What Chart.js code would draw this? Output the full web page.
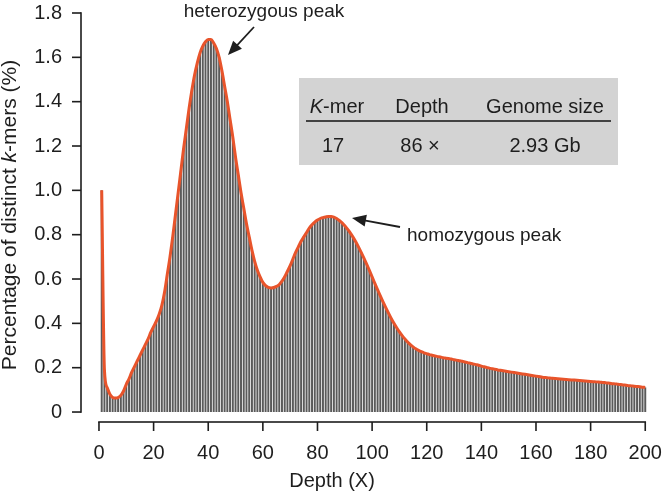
<!DOCTYPE html>
<html>
<head>
<meta charset="utf-8">
<script src="https://cdn.jsdelivr.net/npm/chart.js@4.4.0/dist/chart.umd.min.js"></script>
<style>
html, body { margin: 0; padding: 0; background: #fff; }
</style>
</head>
<body>
<canvas id="myChart" width="663" height="491"></canvas>
<script>
var depth = [
  1, 2, 3, 4, 5, 6, 7, 8, 9, 10, 11, 12, 13, 14, 15, 16, 17, 18, 19, 20,
  21, 22, 23, 24, 25, 26, 27, 28, 29, 30, 31, 32, 33, 34, 35, 36, 37, 38, 39, 40,
  41, 42, 43, 44, 45, 46, 47, 48, 49, 50, 51, 52, 53, 54, 55, 56, 57, 58, 59, 60,
  61, 62, 63, 64, 65, 66, 67, 68, 69, 70, 71, 72, 73, 74, 75, 76, 77, 78, 79, 80,
  81, 82, 83, 84, 85, 86, 87, 88, 89, 90, 91, 92, 93, 94, 95, 96, 97, 98, 99, 100,
  101, 102, 103, 104, 105, 106, 107, 108, 109, 110, 111, 112, 113, 114, 115, 116, 117, 118, 119, 120,
  121, 122, 123, 124, 125, 126, 127, 128, 129, 130, 131, 132, 133, 134, 135, 136, 137, 138, 139, 140,
  141, 142, 143, 144, 145, 146, 147, 148, 149, 150, 151, 152, 153, 154, 155, 156, 157, 158, 159, 160,
  161, 162, 163, 164, 165, 166, 167, 168, 169, 170, 171, 172, 173, 174, 175, 176, 177, 178, 179, 180,
  181, 182, 183, 184, 185, 186, 187, 188, 189, 190, 191, 192, 193, 194, 195, 196, 197, 198, 199, 200
];

// percentage of distinct k-mers at each depth
var share = [
  1.0, 0.19, 0.11, 0.08, 0.066, 0.063, 0.065, 0.075, 0.095, 0.125,
  0.15, 0.18, 0.205, 0.23, 0.255, 0.28, 0.305, 0.33, 0.36, 0.385,
  0.41, 0.44, 0.48, 0.54, 0.62, 0.70, 0.79, 0.89, 0.99, 1.09,
  1.19, 1.28, 1.37, 1.45, 1.52, 1.575, 1.62, 1.65, 1.67, 1.68,
  1.68, 1.665, 1.64, 1.60, 1.54, 1.47, 1.40, 1.32, 1.24, 1.15,
  1.07, 0.99, 0.92, 0.85, 0.79, 0.73, 0.68, 0.64, 0.61, 0.585,
  0.57, 0.562, 0.56, 0.562, 0.567, 0.575, 0.59, 0.61, 0.635, 0.66,
  0.69, 0.72, 0.745, 0.77, 0.79, 0.81, 0.83, 0.845, 0.857, 0.866,
  0.873, 0.877, 0.880, 0.882, 0.882, 0.879, 0.873, 0.864, 0.853, 0.840,
  0.825, 0.808, 0.789, 0.768, 0.745, 0.720, 0.694, 0.667, 0.639, 0.610,
  0.58, 0.552, 0.524, 0.497, 0.471, 0.446, 0.422, 0.40, 0.38, 0.362,
  0.345, 0.33, 0.316, 0.304, 0.294, 0.285, 0.278, 0.272, 0.267, 0.263,
  0.259, 0.256, 0.253, 0.25, 0.248, 0.245, 0.243, 0.241, 0.239, 0.236,
  0.234, 0.231, 0.229, 0.226, 0.223, 0.22, 0.217, 0.214, 0.211, 0.207,
  0.204, 0.201, 0.198, 0.195, 0.193, 0.19, 0.188, 0.186, 0.184, 0.182,
  0.18, 0.178, 0.176, 0.174, 0.172, 0.17, 0.168, 0.166, 0.164, 0.162,
  0.16, 0.158, 0.156, 0.155, 0.153, 0.152, 0.151, 0.15, 0.149, 0.148,
  0.147, 0.146, 0.145, 0.144, 0.143, 0.142, 0.141, 0.14, 0.139, 0.138,
  0.137, 0.136, 0.135, 0.134, 0.133, 0.131, 0.13, 0.128, 0.127, 0.125,
  0.124, 0.122, 0.121, 0.119, 0.118, 0.116, 0.115, 0.114, 0.112, 0.111
];

var xTicks = [0, 20, 40, 60, 80, 100, 120, 140, 160, 180, 200];
var yTicks = [0, 0.2, 0.4, 0.6, 0.8, 1.0, 1.2, 1.4, 1.6, 1.8];

var FONT = "'Liberation Sans', Arial, Helvetica, sans-serif";
var INK = '#1e1e1e';
var F20 = '20px ' + FONT, I20 = 'italic 20px ' + FONT;
var F21 = '21px ' + FONT, I21 = 'italic 21px ' + FONT;
Chart.defaults.font.family = FONT;

// draw a run of text pieces with different fonts, centred on x
function drawParts(ctx, parts, x, y) {
  var total = 0;
  parts.forEach(function (p) { ctx.font = p[1]; total += ctx.measureText(p[0]).width; });
  var cx = x - total / 2;
  ctx.textAlign = 'left';
  parts.forEach(function (p) {
    ctx.font = p[1];
    ctx.fillText(p[0], cx, y);
    cx += ctx.measureText(p[0]).width;
  });
}

function arrow(ctx, x1, y1, x2, y2) {
  var a = Math.atan2(y2 - y1, x2 - x1), L = 14, W = 6;
  ctx.beginPath();
  ctx.moveTo(x1, y1);
  ctx.lineTo(x2 - Math.cos(a) * L * 0.8, y2 - Math.sin(a) * L * 0.8);
  ctx.stroke();
  ctx.beginPath();
  ctx.moveTo(x2, y2);
  ctx.lineTo(x2 - L * Math.cos(a) + W * Math.sin(a), y2 - L * Math.sin(a) - W * Math.cos(a));
  ctx.lineTo(x2 - L * Math.cos(a) - W * Math.sin(a), y2 - L * Math.sin(a) + W * Math.cos(a));
  ctx.closePath();
  ctx.fill();
}

var extras = {
  id: 'extras',
  afterDraw: function (chart) {
    var ctx = chart.ctx, xs = chart.scales.x, ys = chart.scales.y, area = chart.chartArea;
    var lw = 1.6, tl = 9;
    ctx.save();
    ctx.fillStyle = INK;

    // R style detached axes: lines and tick marks
    var xl = area.left, yb = area.bottom;
    var yTop = ys.getPixelForValue(yTicks[yTicks.length - 1]), yBot = ys.getPixelForValue(yTicks[0]);
    ctx.fillRect(xl - lw / 2, yTop - lw / 2, lw, yBot - yTop + lw);
    yTicks.forEach(function (v) {
      ctx.fillRect(xl - tl, ys.getPixelForValue(v) - lw / 2, tl, lw);
    });
    var xa = xs.getPixelForValue(xTicks[0]), xb = xs.getPixelForValue(xTicks[xTicks.length - 1]);
    ctx.fillRect(xa - lw / 2, yb - lw / 2, xb - xa + lw, lw);
    xTicks.forEach(function (v) {
      ctx.fillRect(xs.getPixelForValue(v) - lw / 2, yb, lw, tl);
    });

    ctx.textBaseline = 'middle';

    // axis titles
    drawParts(ctx, [['Depth (X)', F20]], 332, 481);
    ctx.save();
    ctx.translate(10, 215);
    ctx.rotate(-Math.PI / 2);
    drawParts(ctx, [
      ['Percentage of distinct ', F21],
      ['k', I21],
      ['-mers (%)', F21]
    ], 0, 0);
    ctx.restore();

    // info table
    ctx.fillStyle = '#d3d3d3';
    ctx.fillRect(299, 78, 319, 87);
    ctx.fillStyle = INK;
    drawParts(ctx, [['K', I20], ['-mer', F20]], 337, 107);
    drawParts(ctx, [['Depth', F20]], 422, 107);
    drawParts(ctx, [['Genome size', F20]], 545, 107);
    ctx.fillRect(306, 120.2, 305, 1.6);
    drawParts(ctx, [['17', F20]], 333, 146);
    drawParts(ctx, [['86 \u00d7', F20]], 420, 146);
    drawParts(ctx, [['2.93 Gb', F20]], 545, 146);

    // peak annotations
    drawParts(ctx, [['heterozygous peak', '19px ' + FONT]], 264, 12);
    ctx.textAlign = 'left';
    ctx.font = '19px ' + FONT;
    ctx.fillText('homozygous peak', 407, 236);
    ctx.strokeStyle = INK;
    ctx.lineWidth = 1.8;
    arrow(ctx, 254, 27, 228, 55);
    arrow(ctx, 400, 227, 352, 218);
    ctx.restore();
  }
};

var ctx = document.getElementById('myChart').getContext('2d');
var points = depth.map(function (d, i) { return { x: d, y: share[i] }; });

var myChart = new Chart(ctx, {
  type: 'bar',
  data: {
    datasets: [{
      type: 'line',
      data: points,
      borderColor: '#e8542b',
      borderWidth: 3,
      pointRadius: 0,
      cubicInterpolationMode: 'monotone',
      fill: false,
      order: 1,
      clip: false
    }, {
      type: 'bar',
      data: points,
      backgroundColor: '#5a5a5a',
      barPercentage: 0.72,
      categoryPercentage: 1,
      order: 2,
      clip: false
    }]
  },
  options: {
    responsive: false,
    animation: false,
    devicePixelRatio: 1,
    layout: { padding: { top: 13, right: 3, bottom: 0, left: 0 } },
    plugins: { legend: { display: false }, tooltip: { enabled: false } },
    scales: {
      x: {
        type: 'linear',
        offset: false,
        min: -6.58,
        max: 205.1,
        afterBuildTicks: function (s) { s.ticks = xTicks.map(function (v) { return { value: v }; }); },
        afterFit: function (s) { s.height = 69; },
        border: { display: false },
        grid: { display: false, offset: false, drawTicks: true, tickLength: 18 },
        ticks: { padding: 1, color: INK, font: { size: 20 }, maxRotation: 0, autoSkip: false }
      },
      y: {
        min: -0.045,
        max: 1.8,
        afterBuildTicks: function (s) { s.ticks = yTicks.map(function (v) { return { value: v }; }); },
        afterFit: function (s) { s.width = 81; },
        border: { display: false },
        grid: { display: false, drawTicks: true, tickLength: 18 },
        ticks: {
          padding: 1, color: INK, font: { size: 20 }, autoSkip: false,
          callback: function (v) { return v === 0 ? '0' : v.toFixed(1); }
        }
      }
    }
  },
  plugins: [extras]
});
</script>
</body>
</html>
